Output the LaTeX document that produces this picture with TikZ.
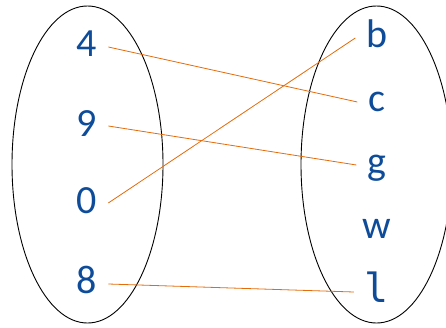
\documentclass[tikz,border=0pt]{standalone}
\usepackage{fontspec}
\usepackage{tikz}
\newfontfamily\elemfont{Carlito}
\newfontfamily\ellfont{DejaVu Sans Mono}
\definecolor{elemblue}{HTML}{0E4C9A}
\definecolor{linkorange}{HTML}{E46C0A}
\tikzset{
  elem/.style={text=elemblue, font=\elemfont\fontsize{40}{48}\selectfont, inner sep=11pt, anchor=base},
  link/.style={draw=linkorange, line width=0.8pt},
}

\begin{document}
\begin{tikzpicture}[x=1pt, y=1pt]
\useasboundingbox (0,0) rectangle (446,327);
\clip (0,0) rectangle (446,327);

% sets
\draw [line width=0.9pt] (87.5,162.5) ellipse (75.5pt and 158.5pt);
\draw [line width=0.9pt] (376.5,162.5) ellipse (75.5pt and 158.5pt);

% left elements
\node [elem] (n4) at (87, 270) {4};
\node [elem] (n9) at (87, 190) {9};
\node [elem] (n0) at (87, 114) {0};
\node [elem] (n8) at (87, 34) {8};

% right elements
\node [elem] (nb) at (377, 279) {b};
\node [elem] (nc) at (377, 215) {c};
\node [elem] (ng) at (377, 153) {g};
\node [elem] (nw) at (377, 89) {w};
\node [elem] (nl) at (377, 25) {\ellfont l};

% mapping
\draw [link] ([yshift=10pt]n4.base east) -- ([yshift=10pt]nc.base west);
\draw [link] ([yshift=11pt]n9.base east) -- ([yshift=9pt]ng.base west);
\draw [link] ([yshift=10pt]n0.base east) -- ([yshift=10pt]nb.base west);
\draw [link] ([yshift=9pt]n8.base east) -- ([yshift=10pt]nl.base west);

\end{tikzpicture}
\end{document}
